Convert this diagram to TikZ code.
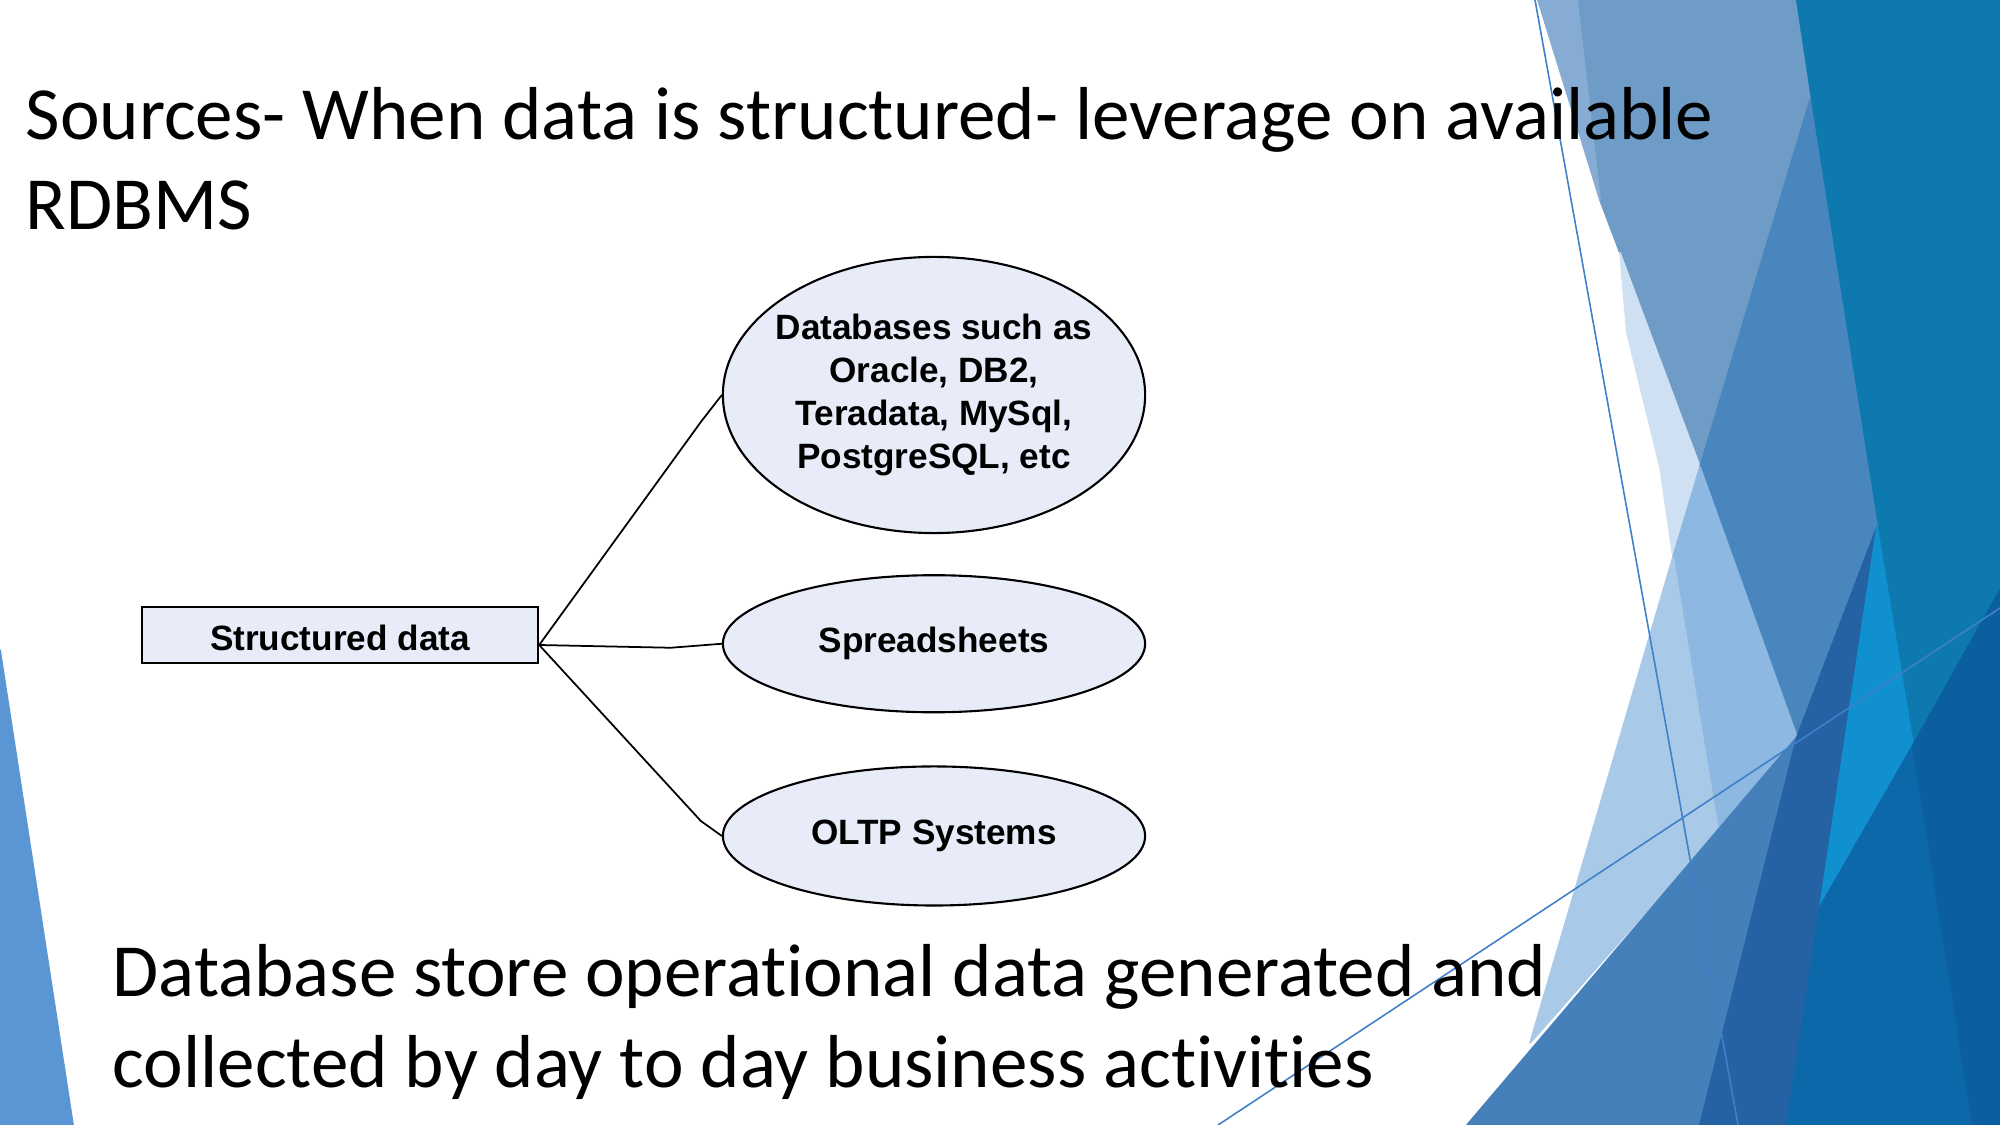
\documentclass[tikz,border=0pt]{standalone}
\usepackage{fontspec}
\setmainfont{Carlito}[Ligatures=NoCommon]
\newfontfamily\arialfont{Liberation Sans}
\usepackage{tikz}
\usetikzlibrary{positioning,shapes.geometric,calc}
\definecolor{ovalfill}{RGB}{232,236,248}
\definecolor{leftblue}{HTML}{5A96D4}
\definecolor{tealblue}{HTML}{0E79AE}
\definecolor{steelblue}{HTML}{6F9CC6}
\definecolor{stripblue}{HTML}{86ACD3}
\definecolor{paleblue}{HTML}{CFE0F2}
\definecolor{midblue}{HTML}{4A86BE}
\definecolor{softblue}{HTML}{8CB8E1}
\definecolor{lightblue}{HTML}{A9C9E8}
\definecolor{bigblue}{HTML}{4580BA}
\definecolor{duskblue}{HTML}{2462A4}
\definecolor{brightblue}{HTML}{1190D0}
\definecolor{deepblue}{HTML}{0D68AA}
\definecolor{darkblue}{HTML}{0B5F9F}
\definecolor{ruleblue}{HTML}{3F80C8}

\begin{document}
\begin{tikzpicture}[
   x=0.01cm,y=-0.01cm,
   facet/.style={fill=#1,draw=#1,line width=0.5pt,line join=round},
   rule/.style={draw=ruleblue,line width=0.45pt},
   slidetext/.style={font=\fontsize{21.34}{25.6}\selectfont,align=left,inner sep=0pt,anchor=base west},
   ovalnode/.style={ellipse,draw,line width=0.6pt,fill=ovalfill,minimum width=4.22cm,inner sep=0pt,align=center,
      font=\arialfont\bfseries\fontsize{10}{12.2}\selectfont},
   boxnode/.style={rectangle,draw,line width=0.6pt,fill=ovalfill,minimum width=3.96cm,minimum height=0.56cm,inner sep=0pt,
      text height=0.3cm,text depth=0pt,font=\arialfont\bfseries\fontsize{10}{12.2}\selectfont},
   link/.style={line width=0.5pt},
]
\useasboundingbox (0,0) rectangle (2000,1125);
\fill[white] (0,0) rectangle (2000,1125);

\path[facet=leftblue] (0,650) -- (73,1125) -- (0,1125) -- cycle;
\path[facet=tealblue] (1795,0) -- (2000,0) -- (2000,590) -- (1913,745) -- cycle;
\path[facet=steelblue] (1577,0) -- (1795,0) -- (1810,100) -- (1700,467) -- (1620,253) -- (1600,200) -- cycle;
\path[facet=stripblue] (1538,0) -- (1577,0) -- (1600,200) -- cycle;
\path[facet=paleblue] (1620,253) -- (1700,467) -- (1673,557) -- (1660,467) -- (1627,333) -- cycle;
\path[facet=midblue] (1810,100) -- (1877,527) -- (1797,737) -- (1700,467) -- cycle;
\path[facet=softblue] (1700,467) -- (1797,737) -- (1718,830) -- (1673,557) -- cycle;
\path[facet=lightblue] (1673,557) -- (1718,830) -- (1530,1043) -- cycle;
\path[facet=bigblue] (1797,737) -- (1467,1125) -- (1700,1125) -- cycle;
\path[facet=duskblue] (1797,737) -- (1877,527) -- (1787,1125) -- (1700,1125) -- cycle;
\path[facet=brightblue] (1877,527) -- (1913,745) -- (1820,907) -- cycle;
\path[facet=deepblue] (1913,745) -- (1820,907) -- (1787,1125) -- (1973,1125) -- cycle;
\path[facet=darkblue] (2000,590) -- (1913,745) -- (1973,1125) -- (2000,1125) -- cycle;
\draw[rule] (1535,0) -- (1738,1125);
\draw[rule] (1218,1125) -- (2000,608);

\node[slidetext] (title) at (25,230) {Sources- When data is structured- leverage on available\\RDBMS};
\node[slidetext] (note) at (112,1087) {Database store operational data generated and\\collected by day to day business activities};

\node[boxnode] (src) at (340,635) {Structured data};
\node[ovalnode,minimum height=2.76cm,inner xsep=-2mm] (db) at (934,395)
   {Databases such as\\Oracle, DB2,\\Teradata, MySql,\\PostgreSQL, etc};
\node[ovalnode,minimum height=1.37cm,below=0.4cm of db] (sheets) {Spreadsheets};
\node[ovalnode,minimum height=1.39cm,below=0.52cm of sheets] (oltp) {OLTP Systems};

\coordinate (hub) at ($(src.east)+(0,10)$);
\draw[link] (hub) -- ([shift={(-21,27)}]db.west) -- (db.west);
\draw[link] (hub) -- ([shift={(-51,4)}]sheets.west) -- (sheets.west);
\draw[link] (hub) -- ([shift={(-21,-15)}]oltp.west) -- (oltp.west);
\end{tikzpicture}
\end{document}
